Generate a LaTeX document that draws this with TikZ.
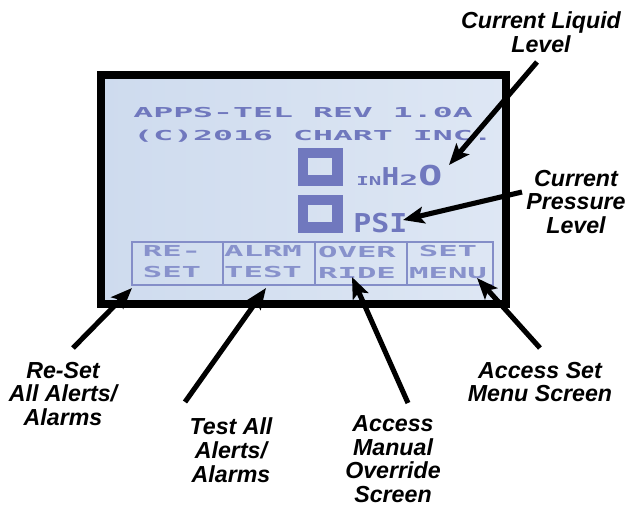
\documentclass[tikz,border=0pt]{standalone}
\usepackage{fontspec}
\usepackage{graphicx}
\setmainfont{Liberation Sans}
\newfontfamily\lcdfont{DejaVu Sans Mono}
\usetikzlibrary{arrows.meta}

\definecolor{lcdbgleft}{RGB}{206,219,238}
\definecolor{lcdbgright}{RGB}{222,231,244}
\definecolor{lcdink}{RGB}{112,120,190}
\definecolor{lcdsoft}{RGB}{136,146,204}
\definecolor{lcdrule}{RGB}{132,142,200}

% horizontally widened LCD lettering
\newcommand\lcdwide[2]{\scalebox{#1}[1]{#2}}

\begin{document}
\begin{tikzpicture}[x=0.02cm,y=-0.02cm,
  lcdtext/.style={text=lcdink, inner sep=0pt, font=\lcdfont\bfseries\fontsize{7.8}{8}\selectfont},
  btntext/.style={text=lcdsoft, inner sep=0pt, font=\lcdfont\bfseries\fontsize{8.6}{12}\selectfont},
  btncell/.style={draw=lcdrule, line width=0.9pt, minimum height=0.86cm, inner sep=0pt},
  bigdigit/.style={draw=lcdink, line width=5.7pt, minimum width=0.70cm, minimum height=0.56cm, inner sep=0pt},
  callout/.style={font=\fontsize{13.2}{13.5}\selectfont\bfseries\itshape, align=center, inner sep=0pt},
  pointer/.style={line width=2.9pt, black, -{Stealth[length=12pt,width=9.5pt,inset=2.5pt]}}]

\useasboundingbox (0,0) rectangle (628,508);

% display panel with its black bezel
\node[draw=black, line width=4.6pt, minimum width=8.1cm, minimum height=4.58cm,
      left color=lcdbgleft, right color=lcdbgright, inner sep=0pt] (screen) at (303.5,189.5) {};

% header lines
\node[lcdtext, anchor=base west] (hdr1) at (133,117) {\lcdwide{2.42}{APPS-TEL REV 1.0A}};
\node[lcdtext, anchor=base west] (hdr2) at (133,140) {\lcdwide{2.42}{(C)2016 CHART INC.}};

% readings
\node[bigdigit] (levelval) at (320,166.5) {};
\node[bigdigit] (pressval) at (320,213.5) {};
\node[text=lcdink, inner sep=0pt, anchor=base west, font=\lcdfont\bfseries] (levelunit) at (356,185)
  {\fontsize{7}{7}\selectfont\lcdwide{1.7}{IN}\fontsize{14}{14}\selectfont\lcdwide{1.2}{H}\fontsize{8.2}{8}\selectfont\lcdwide{2.2}{2}\fontsize{15.6}{16}\selectfont\lcdwide{1.45}{O}};
\node[text=lcdink, inner sep=0pt, anchor=base west, font=\lcdfont\bfseries\fontsize{14.8}{15}\selectfont] (pressunit) at (353,232)
  {\lcdwide{1.15}{PSI}};

% soft-key strip
\node[btncell, minimum width=1.82cm] (kreset) at (177.5,263.5) {};
\node[btncell, minimum width=1.84cm] (ktest)  at (269,263.5) {};
\node[btncell, minimum width=1.84cm] (kover)  at (361,263.5) {};
\node[btncell, minimum width=1.72cm] (kmenu)  at (450,263.5) {};

\node[btntext, align=left]   at (172,262) {\lcdwide{2.14}{RE-}\\\lcdwide{2.14}{SET}};
\node[btntext, align=left]   at (263,262) {\lcdwide{2.14}{ALRM}\\\lcdwide{2.14}{TEST}};
\node[btntext, align=left]   at (357,262) {\lcdwide{2.14}{OVER}\\\lcdwide{2.14}{RIDE}};
\node[btntext, align=center] at (448,262) {\lcdwide{2.14}{SET}\\\lcdwide{2.14}{MENU}};

% callout texts
\node[callout] (lblLiquid)   at (541,32)  {Current Liquid\\Level};
\node[callout] (lblPressure) at (576,202) {Current\\Pressure\\Level};
\node[callout] (lblReset)    at (63,394)  {Re-Set\\All Alerts/\\Alarms};
\node[callout] (lblTest)     at (231,450) {Test All\\Alerts/\\Alarms};
\node[callout] (lblOverride) at (393,459) {Access\\Manual\\Override\\Screen};
\node[callout] (lblMenu)     at (540,382) {Access Set\\Menu Screen};

% pointer ends
\coordinate (tLiquid)   at (537,62);
\coordinate (hLiquid)   at (449,165);
\coordinate (tPressure) at (522,192);
\coordinate (hPressure) at (403,220);
\coordinate (tReset)    at (73,348);
\coordinate (hReset)    at (132,288);
\coordinate (tTest)     at (185,402);
\coordinate (hTest)     at (266,288);
\coordinate (tOverride) at (408,403);
\coordinate (hOverride) at (352,277);
\coordinate (tMenu)     at (540,348);
\coordinate (hMenu)     at (477,278);

\draw[pointer] (tLiquid)   -- (hLiquid);
\draw[pointer] (tPressure) -- (hPressure);
\draw[pointer] (tReset)    -- (hReset);
\draw[pointer] (tTest)     -- (hTest);
\draw[pointer] (tOverride) -- (hOverride);
\draw[pointer] (tMenu)     -- (hMenu);
\end{tikzpicture}
\end{document}
